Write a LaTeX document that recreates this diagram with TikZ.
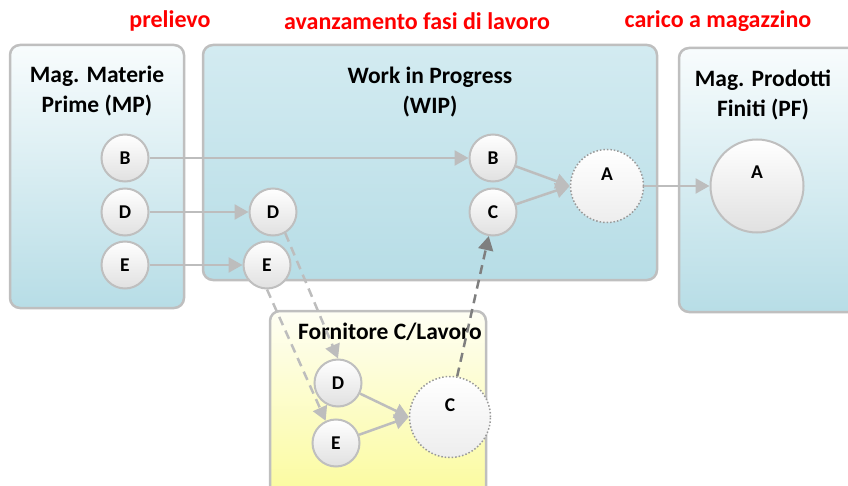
\documentclass[tikz,border=0pt]{standalone}
\usepackage{fontspec}
\setmainfont{Carlito}
\usetikzlibrary{arrows.meta,shadings}
\definecolor{rimgray}{HTML}{BFBFBF}
\definecolor{arrgray}{HTML}{BDBDBD}
\definecolor{darkarr}{HTML}{7F7F7F}
\definecolor{headred}{HTML}{FF0000}
\definecolor{iceblue}{HTML}{F8FCFD}
\definecolor{seablue}{HTML}{B7DDE6}
\definecolor{wipblue}{HTML}{D3EBF1}
\definecolor{paleyel}{HTML}{FEFEF4}
\definecolor{lemon}{HTML}{FBFB9C}
\tikzset{
	store/.style={draw=rimgray, line width=2.5pt, rounded corners=10pt, top color=iceblue, bottom color=seablue},
	boxtitle/.style={font=\fontsize{23.5}{30}\selectfont\bfseries, align=center},
	header/.style={font=\fontsize{24}{28}\selectfont\bfseries, text=headred},
	ballfont/.style={font=\fontsize{19.5}{22}\selectfont\bfseries},
	ball/.style={circle, draw=rimgray, line width=2pt, top color=white, bottom color=black!12, minimum size=47pt, inner sep=0pt, ballfont},
	dotball/.style={ball, draw=black!40, line width=1.5pt, dotted, bottom color=black!7},
	flow/.style={draw=arrgray, line width=2.5pt, -{Triangle[length=14pt,width=15pt]}},
	subflow/.style={flow, dash pattern=on 9pt off 6pt},
}
\begin{document}
\begin{tikzpicture}[x=1pt,y=-1pt]
			%%%%% START %%%%%
			\useasboundingbox (0,0) rectangle (848,486);
			
			\node[header] (hpick) at (170,21) {prelievo};
			\node[header] (hwork) at (417,21) {avanzamento fasi di lavoro};
			\node[header] (hload) at (718,21) {carico a magazzino};
			
			\draw[store] (10,45) rectangle (184,308);
			\draw[store, top color=wipblue] (203,45) rectangle (657,280);
			\draw[store] (679,48) rectangle (859,312);
			\draw[store, top color=paleyel, bottom color=lemon] (270,311) rectangle (486,500);
			
			\node[boxtitle] (tmp) at (97,91) {Mag. Materie\\Prime (MP)};
			\node[boxtitle] (twip) at (430,92) {Work in Progress\\(WIP)};
			\node[boxtitle] (tpf) at (763,95) {Mag. Prodotti\\Finiti (PF)};
			\node[boxtitle] (tfor) at (390,332) {Fornitore C/Lavoro};
			
			\node[ball] (mB) at (125,158) {B};
			\node[ball] (mD) at (125,212) {D};
			\node[ball] (mE) at (125,265) {E};
			
			\node[ball] (wB) at (493,158) {B};
			\node[ball] (wC) at (493,212) {C};
			\node[ball] (wD) at (273,212) {D};
			\node[ball] (wE) at (267,265) {E};
			\node[dotball, minimum size=73pt, label={[ballfont, yshift=12pt]center:A}] (wA) at (607,186) {};
			
			\node[ball, minimum size=93pt, label={[ballfont, yshift=14pt]center:A}] (pA) at (757,186) {};
			
			\node[ball] (fD) at (338,383) {D};
			\node[ball] (fE) at (336,443) {E};
			\node[dotball, minimum size=81pt, label={[ballfont, yshift=12pt]center:C}] (fC) at (450,417) {};
			
			\draw[flow] (mB) -- (wB);
			\draw[flow] (mD) -- (wD);
			\draw[flow] (mE) -- (wE);
			\draw[flow] (wB) -- (wA.west);
			\draw[flow] (wC) -- (wA.west);
			\draw[flow] (wA) -- (pA);
			
			\draw[subflow] (wD.-60) -- (fD.north);
			\draw[subflow] (wE.south) -- (fE.115);
			\draw[flow] (fD) -- (fC.west);
			\draw[flow] (fE) -- (fC.west);
			\draw[subflow, draw=darkarr] (fC.80) -- (wC.-100);
			%%%%% END %%%%%
		\end{tikzpicture}
\end{document}
